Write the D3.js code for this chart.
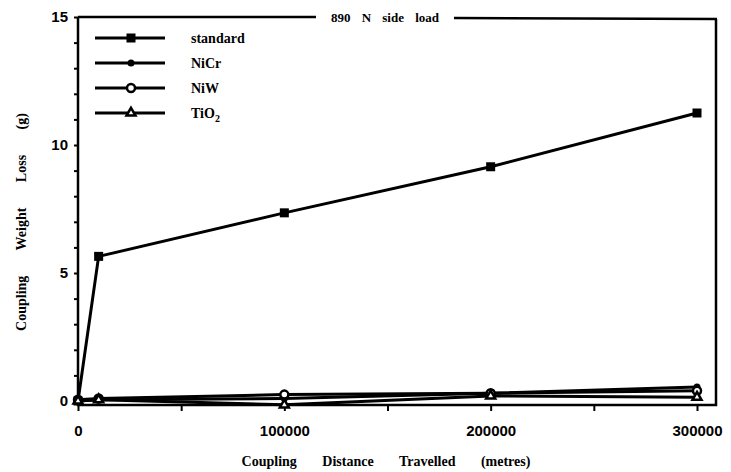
<!DOCTYPE html>
<html>
<head>
<meta charset="utf-8">
<script src="https://cdn.jsdelivr.net/npm/d3@7"></script>
<style>
  body { margin: 0; background: #fff; }
  text { font-family: "Liberation Sans", Arial, sans-serif; font-weight: bold; fill: #000; }
</style>
</head>
<body>
<div class="chart"></div>
<script>
let width = 731;
let height = 472;

// values
let distance = [0, 10000, 100000, 200000, 300000];
let standard = [0, 5.65, 7.35, 9.15, 11.25];
let nicr = [0, 0.05, 0.1, 0.3, 0.55];
let niw = [0.05, 0.1, 0.25, 0.3, 0.4];
let tio2 = [0, 0.05, -0.15, 0.2, 0.15];
let seriesNames = ['standard', 'NiCr', 'NiW', 'TiO2'];
let xTickValues = [0, 100000, 200000, 300000];
let yTickValues = [0, 5, 10, 15];

let svg = d3.select('.chart')
            .append('svg')
            .attr('width', width)
            .attr('height', height);

let xScale = d3.scaleLinear()
               .domain([0, 300000])
               .range([78, 697]);
let yScale = d3.scaleLinear()
               .domain([0, 15])
               .range([401, 17]);

// frame: left axis, bottom, right, top with label
svg.append('path')
   .attr('d', 'M78,17 L78,405 L716,405 L716,19')
   .attr('fill', 'none')
   .attr('stroke', '#000')
   .attr('stroke-width', 2.5);
svg.append('line').attr('x1', 78).attr('x2', 316).attr('y1', 17).attr('y2', 17)
   .attr('stroke', '#000').attr('stroke-width', 2.5);
svg.append('line').attr('x1', 454).attr('x2', 717).attr('y1', 18).attr('y2', 19)
   .attr('stroke', '#000').attr('stroke-width', 2.5);
svg.append('text')
   .attr('x', 385).attr('y', 22)
   .attr('text-anchor', 'middle')
   .style('font-family', '"Liberation Serif", serif')
   .style('font-size', '13px')
   .style('word-spacing', '8px')
   .text('890 N  side load');

// y axis
let yAxis = d3.axisLeft(yScale)
              .tickValues(d3.range(0, 16, 1))
              .tickSize(4)
              .tickFormat(d => yTickValues.includes(d) ? d : '');
let gy = svg.append('g')
   .attr('transform', 'translate(78,0)')
   .call(yAxis);
gy.select('.domain').remove();
gy.selectAll('line').attr('stroke-width', 2);
gy.selectAll('text').style('font-size', '15px').attr('dx', '-3px');

// x axis
let xAxis = d3.axisBottom(xScale)
              .tickValues(d3.range(0, 300001, 50000))
              .tickSize(6)
              .tickFormat(d => xTickValues.includes(d) ? d : '');
let gx = svg.append('g')
   .attr('transform', 'translate(0,405)')
   .call(xAxis);
gx.select('.domain').remove();
gx.selectAll('line').attr('stroke-width', 2);
gx.selectAll('text').style('font-size', '15px').attr('dy', '1.45em');

// axis titles
svg.append('text')
   .attr('x', 386).attr('y', 466)
   .attr('text-anchor', 'middle')
   .style('font-family', '"Liberation Serif", serif')
   .style('font-size', '14px')
   .style('word-spacing', '22px')
   .text('Coupling Distance Travelled (metres)');
svg.append('text')
   .attr('transform', 'translate(26,222) rotate(-90)')
   .attr('text-anchor', 'middle')
   .style('font-family', '"Liberation Serif", serif')
   .style('font-size', '14px')
   .style('word-spacing', '22px')
   .text('Coupling Weight Loss (g)');

// lines
let allSeries = [standard, nicr, niw, tio2];
let line = d3.line()
             .x((d, i) => xScale(distance[i]))
             .y(d => yScale(d));
svg.selectAll('.series')
   .data(allSeries)
   .enter()
   .append('path')
   .attr('class', 'series')
   .attr('d', d => line(d))
   .attr('fill', 'none')
   .attr('stroke', '#000')
   .attr('stroke-width', 3);

// marker drawing
function marker(g, k, x, y) {
  if (k == 0) {
    g.append('rect').attr('x', x - 4.5).attr('y', y - 4.5).attr('width', 9).attr('height', 9)
     .attr('fill', '#000');
  } else if (k == 1) {
    g.append('circle').attr('cx', x).attr('cy', y).attr('r', 3.5).attr('fill', '#000');
  } else if (k == 2) {
    g.append('circle').attr('cx', x).attr('cy', y).attr('r', 4)
     .attr('fill', '#fff').attr('stroke', '#000').attr('stroke-width', 2.5);
  } else {
    g.append('path').attr('d', d3.symbol().type(d3.symbolTriangle).size(35)())
     .attr('transform', 'translate(' + x + ',' + y + ')')
     .attr('fill', '#fff').attr('stroke', '#000').attr('stroke-width', 2.5);
  }
}
let marks = svg.append('g');
allSeries.forEach((s, k) => {
  s.forEach((v, i) => marker(marks, k, xScale(distance[i]), yScale(v)));
});

// legend
let legend = svg.append('g');
seriesNames.forEach((name, i) => {
  let y = 38 + i * 25;
  legend.append('line').attr('x1', 95).attr('x2', 165).attr('y1', y).attr('y2', y)
        .attr('stroke', '#000').attr('stroke-width', 3);
  marker(legend, i, 131, y);
  let t = legend.append('text')
        .attr('x', 191).attr('y', y + 5)
        .style('font-family', '"Liberation Serif", serif')
        .style('font-size', '14px');
  if (name == 'TiO2') {
    t.text('TiO');
    t.append('tspan').attr('dy', 4).style('font-size', '10px').text('2');
  } else {
    t.text(name);
  }
});
</script>
</body>
</html>
